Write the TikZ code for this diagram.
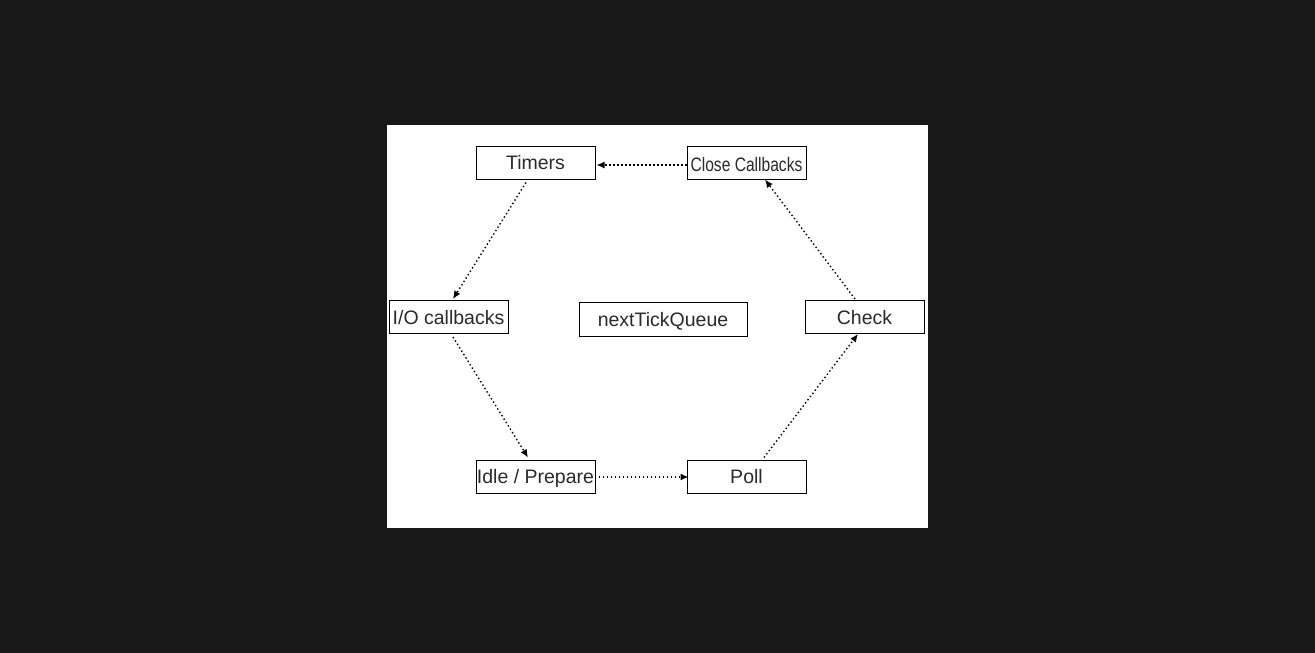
\documentclass[tikz,border=0pt]{standalone}
\usepackage{fontspec}
\setmainfont{Liberation Sans}
\usetikzlibrary{arrows.meta,calc}
\definecolor{bgdark}{HTML}{181818}
\definecolor{txt}{HTML}{2a2a2a}
\begin{document}
\begin{tikzpicture}[x=1pt,y=-1pt,
  phase/.style={draw=black,line width=1pt,fill=white,minimum width=119pt,minimum height=33pt,inner sep=0pt,text=txt,text height=14pt,text depth=0pt,font=\fontsize{19.5}{21}\selectfont},
  flow/.style={line width=1.4pt,dash pattern=on 1.4pt off 2.6pt,-{Latex[length=8pt,width=7pt]}}]
\fill[bgdark] (0,0) rectangle (1315,653);
\useasboundingbox (0,0) rectangle (1315,653);
\fill[white] (387,125) rectangle (928,528);
\node[phase] (timers) at (535.5,162.5) {Timers};
\node[phase] (close) at (746.5,162.5) {\raisebox{-1.5pt}{\scalebox{0.8}[1]{Close Callbacks}}};
\node[phase] (io) at (448.5,317) {I/O callbacks};
\node[phase,minimum width=168pt,minimum height=34pt] (tick) at (663,319) {nextTickQueue};
\node[phase] (check) at (864.5,317) {Check};
\node[phase] (idle) at (535.5,476.5) {Idle / Prepare};
\node[phase] (poll) at (746.5,476.5) {Poll};
\draw[flow] ([yshift=-2.5pt]close.west) -- ([xshift=1pt,yshift=-2.5pt]timers.east);
\draw[flow] ([xshift=-9.5pt,yshift=-3pt]timers.south) -- ([xshift=4.5pt,yshift=1pt]io.north);
\draw[flow] ([xshift=4.5pt,yshift=-3pt]io.south) -- ([xshift=-7.5pt,yshift=2pt]idle.north);
\draw[flow] ([xshift=3pt,yshift=-0.5pt]idle.east) -- ([xshift=2pt,yshift=-0.5pt]poll.west);
\draw[flow] ([xshift=17.5pt,yshift=2pt]poll.north) -- ([xshift=-6.5pt]check.south);
\draw[flow] ([xshift=-9.5pt,yshift=1pt]check.north) -- ([xshift=18.5pt]close.south);
\end{tikzpicture}
\end{document}
